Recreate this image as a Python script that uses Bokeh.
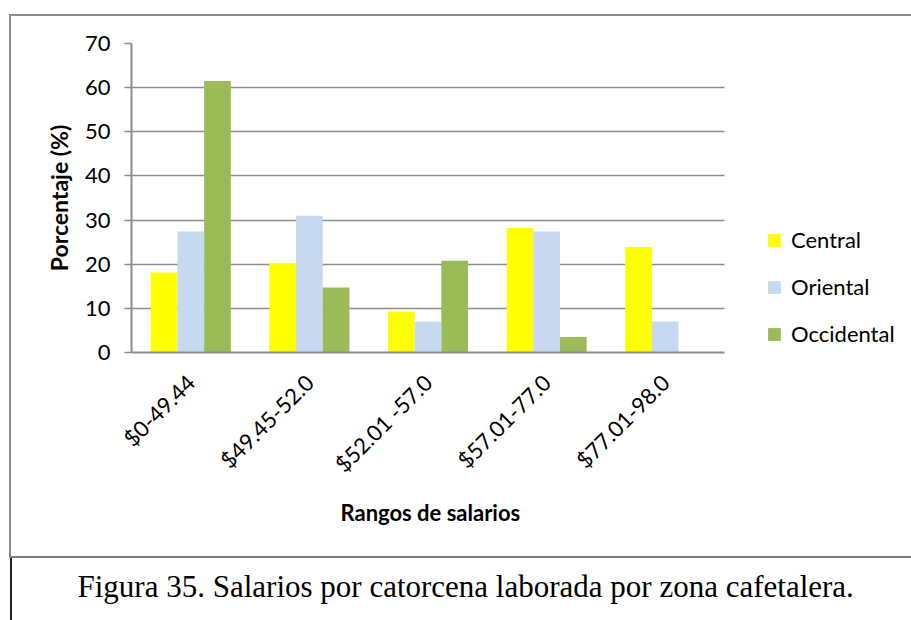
import math
from bokeh.plotting import figure
from bokeh.models import (ColumnDataSource, Legend, LegendItem, Title, Grid,
                          Range1d, FixedTicker)
from bokeh.transform import dodge
from bokeh.embed import file_html
from bokeh.resources import INLINE

# ---- data ----
categories = ["$0-49.44", "$49.45-52.0", "$52.01 -57.0", "$57.01-77.0", "$77.01-98.0"]
central = [18.1, 20.3, 9.3, 28.2, 23.9]
oriental = [27.4, 31.0, 7.0, 27.4, 7.0]
occidental = [61.5, 14.7, 20.8, 3.5, 0.0]
series_names = ["Central", "Oriental", "Occidental"]
y_ticks = [0, 10, 20, 30, 40, 50, 60, 70]
caption = "Figura 35. Salarios por catorcena laborada por zona cafetalera."
x_title = "Rangos de salarios"
y_title = "Porcentaje (%)"

colors = ["#FFFF00", "#C6D9F1", "#9BBB59"]
grey = "#8c8c8c"

n = len(categories)
xpos = [i + 0.5 for i in range(n)]          # category slots on a numeric scale
src = ColumnDataSource(dict(x=xpos, cat=categories, central=central,
                            oriental=oriental, occidental=occidental))

W, H = 911, 640
left_px, plot_px = 131, 593                  # plot-area left edge and width of the 5 slots
x_end = n * (W - left_px) / plot_px

p = figure(x_range=Range1d(0, x_end), y_range=Range1d(0, 70),
           width=W, height=H, output_backend="svg", toolbar_location=None,
           min_border_left=left_px, min_border_right=0, min_border_top=43,
           min_border_bottom=H - 352)
frame_lines = ", ".join([
    f"linear-gradient({grey},{grey}) 9px 14px / 920px 2px no-repeat",
    f"linear-gradient({grey},{grey}) 9px 14px / 2px 544px no-repeat",
    "linear-gradient(#7a7a7a,#7a7a7a) 9px 556px / 920px 2px no-repeat",
    "linear-gradient(#222,#222) 10px 558px / 2px 90px no-repeat",
    "white",
])
p.styles = {"position": "fixed", "left": "0px", "top": "0px", "background": frame_lines}
p.outline_line_color = None
p.background_fill_color = None
p.border_fill_color = None

bw = 0.225
renderers = []
for off, key, col in zip([-bw, 0.0, bw], ["central", "oriental", "occidental"], colors):
    r = p.vbar(x=dodge("x", off), top=key, width=bw,
               source=src, fill_color=col, line_color=None)
    renderers.append(r)

# grid (horizontal lines only over the category slots)
p.xgrid.grid_line_color = None
p.ygrid.ticker = FixedTicker(ticks=y_ticks)
if "cross_bounds" in Grid.properties():
    p.ygrid.cross_bounds = (0, n)
    p.ygrid.grid_line_color = grey
    p.ygrid.grid_line_width = 1.5
else:
    p.ygrid.grid_line_color = None
    p.segment(x0=[0] * len(y_ticks), x1=[n] * len(y_ticks), y0=y_ticks, y1=y_ticks,
              line_color=grey, line_width=1.5, level="underlay")

# y axis
p.yaxis.ticker = FixedTicker(ticks=y_ticks)
p.yaxis.minor_tick_line_color = None
p.yaxis.major_tick_in = 0
p.yaxis.major_tick_out = 7
p.yaxis.major_tick_line_color = grey
p.yaxis.major_tick_line_width = 1.5
p.yaxis.axis_line_color = grey
p.yaxis.axis_line_width = 2
p.yaxis.major_label_text_font = "Lato"
p.yaxis.major_label_text_font_size = "22px"
p.yaxis.major_label_text_color = "black"
p.yaxis.major_label_standoff = 14
p.yaxis.axis_label = y_title
p.yaxis.axis_label_text_font = "Lato"
p.yaxis.axis_label_text_font_style = "bold"
p.yaxis.axis_label_text_font_size = "23px"
p.yaxis.axis_label_text_color = "black"
p.yaxis.axis_label_standoff = 9

# x axis (category labels on the slot centres)
p.xaxis.ticker = FixedTicker(ticks=xpos)
p.xaxis.major_label_overrides = {x: c for x, c in zip(xpos, categories)}
p.xaxis.bounds = (0, n)
p.xaxis.minor_tick_line_color = None
p.xaxis.major_label_orientation = math.pi / 4
p.xaxis.major_tick_in = 0
p.xaxis.major_tick_out = 0
p.xaxis.axis_line_color = grey
p.xaxis.axis_line_width = 2
p.xaxis.major_label_text_font = "Lato"
p.xaxis.major_label_text_font_size = "22px"
p.xaxis.major_label_text_color = "black"
p.xaxis.major_label_standoff = 26

# x-axis title, centred under the category slots
xt = Title(text=x_title, align="left", offset=209, standoff=15,
           text_font="Lato", text_font_size="22px", text_font_style="bold",
           text_color="black")
p.add_layout(xt, "below")

# legend (inside the wide frame, right of the bars)
items = [LegendItem(label=nm, renderers=[r]) for nm, r in zip(series_names, renderers)]
legend = Legend(items=items, location=(635, 5), orientation="vertical",
                glyph_width=16, glyph_height=16, label_height=22, spacing=20,
                label_standoff=9, padding=0, margin=0,
                label_text_font="Lato", label_text_font_size="22px",
                label_text_color="black", border_line_color=None,
                background_fill_alpha=0)
p.add_layout(legend)

# caption
cap = Title(text=caption, align="left", offset=-54, standoff=66,
            text_font="Liberation Serif", text_font_size="31px",
            text_font_style="normal", text_color="black")
p.add_layout(cap, "below")

open("out.html", "w").write(file_html(p, INLINE))
